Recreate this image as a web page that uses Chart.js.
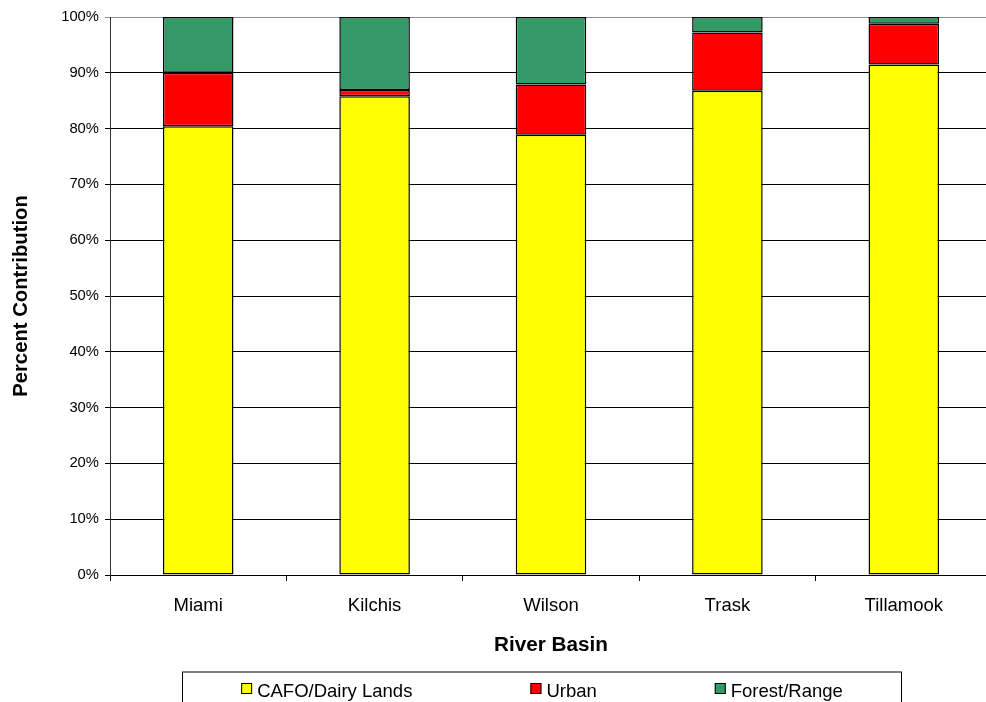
<!DOCTYPE html>
<html>
<head>
<meta charset="utf-8">
<script src="https://cdn.jsdelivr.net/npm/chart.js@4.4.0/dist/chart.umd.min.js"></script>
<style>
    html, body { margin: 0; padding: 0; background: #ffffff; overflow: hidden; }
    #caja { width: 1000px; height: 720px; }
</style>
</head>
<body>
<div id="caja"><canvas id="contribucion" width="1000" height="720"></canvas></div>
<script>
// Datos
const cuencas = ['Miami', 'Kilchis', 'Wilson', 'Trask', 'Tillamook'];
const cafoDairy = [80.4, 85.8, 78.9, 86.8, 91.5];
const urbano = [9.6, 1.1, 9.0, 10.4, 7.3];
const bosque = [10.0, 13.1, 12.1, 2.8, 1.2];
const ticksY = [0, 10, 20, 30, 40, 50, 60, 70, 80, 90, 100];

const fuente = "'Liberation Sans', Arial, sans-serif";

// Leyenda con recuadro (la de Chart.js no dibuja borde)
const leyendaCaja = {
    id: 'leyendaCaja',
    afterDraw(chart) {
        const ctx = chart.ctx;
        const top = chart.scales.x.bottom + 14.5;
        const left = 182.5, right = 901.5;
        ctx.save();
        ctx.strokeStyle = '#000000';
        ctx.lineWidth = 1;
        ctx.strokeRect(left, top, right - left, 80);

        ctx.font = '18.5px ' + fuente;
        ctx.textBaseline = 'middle';
        ctx.textAlign = 'left';
        const cuadro = 11, sep = 5, hueco = 118;
        const anchos = chart.data.datasets.map(d => cuadro + sep + ctx.measureText(d.label).width);
        const total = anchos.reduce((a, b) => a + b, 0) + hueco * (anchos.length - 1);
        let x = (left + right) / 2 - total / 2;
        chart.data.datasets.forEach((d, i) => {
            ctx.fillStyle = d.backgroundColor;
            ctx.fillRect(x, top + 11, cuadro, cuadro);
            ctx.strokeStyle = '#000000';
            ctx.strokeRect(x + 0.5, top + 11.5, cuadro - 1, cuadro - 1);
            ctx.fillStyle = '#000000';
            ctx.fillText(d.label, x + cuadro + sep, top + 20);
            x += anchos[i] + hueco;
        });
        ctx.restore();
    }
};

const grafico = document.getElementById('contribucion').getContext('2d');
const data = {
    labels: cuencas,
    datasets: [
        {
            label: 'CAFO/Dairy Lands',
            data: cafoDairy,
            backgroundColor: '#FFFF00',
            borderColor: '#000000',
            borderWidth: 1.5,
            borderSkipped: false
        },
        {
            label: 'Urban',
            data: urbano,
            backgroundColor: '#FF0000',
            borderColor: '#000000',
            borderWidth: 1.5,
            borderSkipped: false
        },
        {
            label: 'Forest/Range',
            data: bosque,
            backgroundColor: '#339966',
            borderColor: '#000000',
            borderWidth: 1.5,
            borderSkipped: false
        }
    ]
};

new Chart(grafico, {
    type: 'bar',
    data: data,
    plugins: [leyendaCaja],
    options: {
        responsive: false,
        animation: false,
        devicePixelRatio: 1,
        barPercentage: 0.4,
        categoryPercentage: 1.0,
        layout: {
            padding: { top: 17, right: 8, bottom: 62.5, left: 0 }
        },
        plugins: {
            legend: { display: false },
            tooltip: { enabled: false }
        },
        scales: {
            x: {
                stacked: true,
                afterFit: (s) => { s.height = 82.5; },
                grid: {
                    offset: true,
                    drawOnChartArea: false,
                    drawTicks: true,
                    tickLength: 6,
                    color: '#000000'
                },
                border: { color: '#000000', width: 1 },
                ticks: {
                    padding: 14,
                    color: '#000000',
                    font: { family: fuente, size: 18.5 }
                },
                title: {
                    display: true,
                    text: 'River Basin',
                    color: '#000000',
                    padding: 0,
                    font: { family: fuente, size: 20.7, weight: 'bold' }
                }
            },
            y: {
                stacked: true,
                min: 0,
                max: 100,
                afterFit: (s) => { s.width = 110; },
                afterBuildTicks: (s) => { s.ticks = ticksY.map(v => ({ value: v })); },
                grid: {
                    color: (c) => c.tick && c.tick.value === 100 ? '#8c8c8c' : '#000000',
                    tickLength: 5,
                    lineWidth: 1
                },
                border: { color: '#333333', width: 1 },
                ticks: {
                    padding: 6,
                    color: '#000000',
                    font: { family: fuente, size: 14.8 },
                    callback: (v) => v + '%'
                },
                title: {
                    display: true,
                    text: 'Percent Contribution',
                    color: '#000000',
                    padding: { top: 9, bottom: 0 },
                    font: { family: fuente, size: 20.3, weight: 'bold' }
                }
            }
        }
    }
});
</script>
</body>
</html>
